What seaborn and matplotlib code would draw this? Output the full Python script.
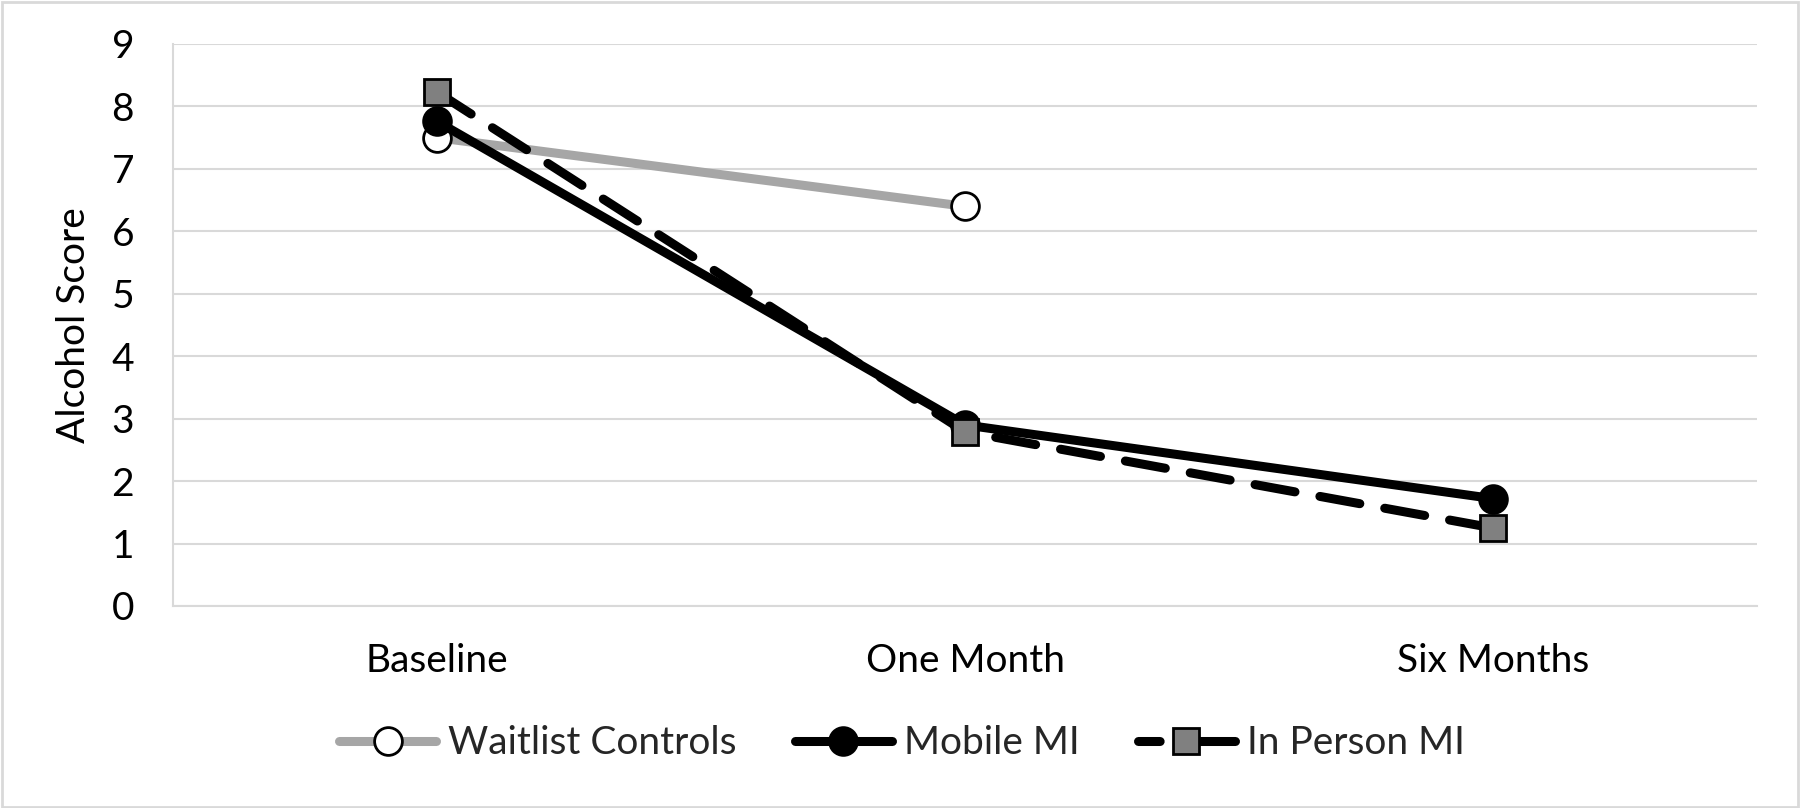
import matplotlib
matplotlib.use("Agg")
import matplotlib.pyplot as plt
import seaborn as sns
import numpy as np
import pandas as pd
from matplotlib.patches import Rectangle
from matplotlib.lines import Line2D

categories = ["Baseline", "One Month", "Six Months"]
waitlist = [7.5, 6.4, np.nan]
mobile = [7.76, 2.9, 1.72]
inperson = [8.23, 2.79, 1.25]
series_names = ["Waitlist Controls", "Mobile MI", "In Person MI"]
y_ticks = [0, 1, 2, 3, 4, 5, 6, 7, 8, 9]
y_label = "Alcohol Score"

sns.set_theme(style="white")
plt.rcParams['font.family'] = ['Lato', 'DejaVu Sans']

fig = plt.figure(figsize=(18, 8.08), dpi=100)
ax = fig.add_axes([173/1800, 1-606/808, 1584/1800, 562/808])

xpos = np.arange(len(categories))
LW = 6.5
styles = [
    dict(color="#A6A6A6", marker="o", markerfacecolor="white", markeredgecolor="black",
         markersize=20, markeredgewidth=2, linestyle="-"),
    dict(color="black", marker="o", markerfacecolor="black", markeredgecolor="black",
         markersize=20, markeredgewidth=2, linestyle="-"),
    dict(color="black", marker="s", markerfacecolor="#808080", markeredgecolor="black",
         markersize=19, markeredgewidth=2, linestyle=(0, (4.5, 2.8))),
]
for name, vals, st in zip(series_names, [waitlist, mobile, inperson], styles):
    df = pd.DataFrame({"x": xpos, "y": vals}).dropna()
    sns.lineplot(data=df, x="x", y="y", ax=ax, linewidth=LW,
                 solid_capstyle="round", dash_capstyle="round", **st)

ax.set_xlim(-0.5, 2.5)
ax.set_ylim(0, 9)
ax.set_yticks(y_ticks)
ax.set_xticks(list(xpos) + [2.5])
ax.set_xticklabels(categories + [""])
ax.grid(axis="y", color="#D9D9D9", linewidth=1.5)
ax.grid(axis="x", visible=False)
for s in ["top", "right"]:
    ax.spines[s].set_visible(False)
for s in ["left", "bottom"]:
    ax.spines[s].set_color("#D9D9D9")
    ax.spines[s].set_linewidth(1.5)
ax.tick_params(axis="y", length=0, pad=28, labelsize=28, colors="black")
ax.tick_params(axis="x", direction="inout", length=14, width=1.5, color="#D9D9D9",
               pad=20, labelsize=28, labelcolor="black")
ax.set_xlabel("")
ax.set_ylabel(y_label, fontsize=28, color="black")
ax.yaxis.set_label_coords(-0.051, 0.5)

# legend proxies
handles = []
for i, st in enumerate(styles):
    st2 = dict(st)
    if i == 2:
        st2["linestyle"] = (0, (2.4, 2.1, 8, 1))
    handles.append(Line2D([], [], linewidth=LW, solid_capstyle="round",
                          dash_capstyle="round", **st2))
ax.legend(handles, series_names, loc="center", bbox_to_anchor=(0.501, 0.080),
          bbox_transform=fig.transFigure, ncol=3, frameon=False, fontsize=28,
          handlelength=2.5, handletextpad=0.3, columnspacing=1.5)

fig.patches.append(Rectangle((0.001, 0.001), 0.998, 0.997, transform=fig.transFigure,
                             fill=False, edgecolor="#D9D9D9", linewidth=2))

fig.savefig("out.png", dpi=100)
